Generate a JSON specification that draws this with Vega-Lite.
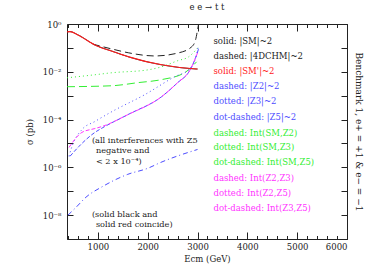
{
  "$schema": "https://vega.github.io/schema/vega-lite/v6.json",
  "width": 280,
  "height": 215,
  "autosize": {"type": "none"},
  "padding": {"left": 67, "top": 24, "right": 27, "bottom": 36},
  "background": "white",
  "config": {
    "font": "DejaVu Serif",
    "view": {"stroke": null},
    "axis": {"domainColor": "#222", "tickColor": "#222", "grid": false, "labelFont": "DejaVu Serif", "titleFont": "DejaVu Serif", "labelColor": "#222", "titleColor": "#222", "titleFontWeight": "normal"}
  },
  "title": {"text": "e e → t t", "fontSize": 8.5, "font": "DejaVu Serif", "fontWeight": "normal", "offset": 9, "anchor": "middle", "color": "#222"},
  "datasets": {
    "curves": [
      {"series": "SMZ2", "E": 380, "sigma": 0.00237},
      {"series": "SMZ2", "E": 1280, "sigma": 0.0026},
      {"series": "SMZ2", "E": 1800, "sigma": 0.0035},
      {"series": "SMZ2", "E": 2280, "sigma": 0.0047},
      {"series": "SMZ2", "E": 2740, "sigma": 0.0091},
      {"series": "SMZ2", "E": 2980, "sigma": 0.026},
      {"series": "SMZ3", "E": 380, "sigma": 0.0056},
      {"series": "SMZ3", "E": 940, "sigma": 0.0075},
      {"series": "SMZ3", "E": 1280, "sigma": 0.0091},
      {"series": "SMZ3", "E": 2000, "sigma": 0.012},
      {"series": "SMZ3", "E": 2280, "sigma": 0.0162},
      {"series": "SMZ3", "E": 2600, "sigma": 0.029},
      {"series": "SMZ3", "E": 2820, "sigma": 0.042},
      {"series": "SMZ3", "E": 3020, "sigma": 0.11},
      {"series": "Z5", "E": 400, "sigma": 1e-8},
      {"series": "Z5", "E": 560, "sigma": 2.1e-8},
      {"series": "Z5", "E": 760, "sigma": 5.6e-8},
      {"series": "Z5", "E": 1100, "sigma": 1.6e-7},
      {"series": "Z5", "E": 1600, "sigma": 5.1e-7},
      {"series": "Z5", "E": 2000, "sigma": 9.1e-7},
      {"series": "Z5", "E": 2260, "sigma": 1.6e-6},
      {"series": "Z5", "E": 3000, "sigma": 5.6e-6},
      {"series": "Z3", "E": 420, "sigma": 2.9e-6},
      {"series": "Z3", "E": 480, "sigma": 7.5e-6},
      {"series": "Z3", "E": 680, "sigma": 3.8e-5},
      {"series": "Z3", "E": 940, "sigma": 8.3e-5},
      {"series": "Z3", "E": 1280, "sigma": 2.14e-4},
      {"series": "Z3", "E": 1940, "sigma": 1.1e-3},
      {"series": "Z3", "E": 2540, "sigma": 6.2e-3},
      {"series": "Z3", "E": 2840, "sigma": 0.013},
      {"series": "Z3", "E": 2980, "sigma": 0.051},
      {"series": "Z3", "E": 3020, "sigma": 0.133},
      {"series": "Z2", "E": 440, "sigma": 2.9e-6},
      {"series": "Z2", "E": 620, "sigma": 7.5e-6},
      {"series": "Z2", "E": 940, "sigma": 2.9e-5},
      {"series": "Z2", "E": 1100, "sigma": 4.6e-5},
      {"series": "Z2", "E": 1600, "sigma": 1.6e-4},
      {"series": "Z2", "E": 2280, "sigma": 9.1e-4},
      {"series": "Z2", "E": 2600, "sigma": 3.5e-3},
      {"series": "Z2", "E": 2840, "sigma": 0.011},
      {"series": "Z2", "E": 2960, "sigma": 0.038},
      {"series": "Z2", "E": 3020, "sigma": 0.09},
      {"series": "Z2Z3", "E": 420, "sigma": 6.8e-6},
      {"series": "Z2Z3", "E": 680, "sigma": 2.9e-5},
      {"series": "Z2Z3", "E": 940, "sigma": 4.2e-5},
      {"series": "Z2Z3", "E": 1080, "sigma": 5.1e-5},
      {"series": "Z2Z3", "E": 1600, "sigma": 1.6e-4},
      {"series": "Z2Z3", "E": 2280, "sigma": 9.1e-4},
      {"series": "Z2Z3", "E": 2600, "sigma": 3.5e-3},
      {"series": "Z2Z3", "E": 2840, "sigma": 0.011},
      {"series": "Z2Z3", "E": 3000, "sigma": 0.062},
      {"series": "SM", "E": 380, "sigma": 0.47},
      {"series": "SM", "E": 440, "sigma": 0.48},
      {"series": "SM", "E": 600, "sigma": 0.35},
      {"series": "SM", "E": 940, "sigma": 0.133},
      {"series": "SM", "E": 1300, "sigma": 0.071},
      {"series": "SM", "E": 1620, "sigma": 0.042},
      {"series": "SM", "E": 2280, "sigma": 0.0196},
      {"series": "SM", "E": 2920, "sigma": 0.0133},
      {"series": "SM", "E": 3000, "sigma": 0.013},
      {"series": "4DCHM", "E": 900, "sigma": 0.143},
      {"series": "4DCHM", "E": 1300, "sigma": 0.088},
      {"series": "4DCHM", "E": 1620, "sigma": 0.062},
      {"series": "4DCHM", "E": 2140, "sigma": 0.046},
      {"series": "4DCHM", "E": 2620, "sigma": 0.062},
      {"series": "4DCHM", "E": 2880, "sigma": 0.11},
      {"series": "4DCHM", "E": 2960, "sigma": 0.215},
      {"series": "4DCHM", "E": 3000, "sigma": 0.56},
      {"series": "4DCHM", "E": 3020, "sigma": 0.95},
      {"series": "SMp", "E": 380, "sigma": 0.47},
      {"series": "SMp", "E": 440, "sigma": 0.48},
      {"series": "SMp", "E": 600, "sigma": 0.35},
      {"series": "SMp", "E": 940, "sigma": 0.133},
      {"series": "SMp", "E": 1300, "sigma": 0.071},
      {"series": "SMp", "E": 1620, "sigma": 0.042},
      {"series": "SMp", "E": 2280, "sigma": 0.0196},
      {"series": "SMp", "E": 2920, "sigma": 0.0133},
      {"series": "SMp", "E": 3000, "sigma": 0.013}
    ],
    "notes": [
      {"E": 880, "sigma": 1.21e-5, "label": "(all interferences with Z5"},
      {"E": 960, "sigma": 4.64e-6, "label": "negative and"},
      {"E": 960, "sigma": 1.62e-6, "label": "< 2 x 10⁻⁴)"},
      {"E": 880, "sigma": 1e-8, "label": "(solid black and"},
      {"E": 960, "sigma": 3.83e-9, "label": "solid red coincide)"}
    ],
    "keys": [
      {"series": "SM", "E": 3320, "sigma": 0.196, "label": "solid: |SM|~2", "part": 1},
      {"series": "4DCHM", "E": 3320, "sigma": 0.0464, "label": "dashed: |4DCHM|~2", "part": 1},
      {"series": "SMp", "E": 3320, "sigma": 0.011, "label": "solid: |SM'|~2", "part": 1},
      {"series": "Z2", "E": 3320, "sigma": 0.00261, "label": "dashed: |Z2|~2", "part": 1},
      {"series": "Z3", "E": 3320, "sigma": 0.000619, "label": "dotted: |Z3|~2", "part": 1},
      {"series": "Z5", "E": 3320, "sigma": 0.000133, "label": "dot-dashed: |Z5|~2", "part": 1},
      {"series": "SMZ2", "E": 3320, "sigma": 2.87e-5, "label": "dashed: Int(SM,Z2)", "part": 2},
      {"series": "SMZ3", "E": 3320, "sigma": 6.81e-6, "label": "dotted: Int(SM,Z3)", "part": 2},
      {"series": "SMZ5", "E": 3320, "sigma": 1.61e-6, "label": "dot-dashed: Int(SM,Z5)", "part": 2},
      {"series": "Z2Z3", "E": 3320, "sigma": 3.48e-7, "label": "dashed: Int(Z2,Z3)", "part": 2},
      {"series": "Z2Z5", "E": 3320, "sigma": 8.25e-8, "label": "dotted: Int(Z2,Z5)", "part": 2},
      {"series": "Z3Z5", "E": 3320, "sigma": 1.96e-8, "label": "dot-dashed: Int(Z3,Z5)", "part": 2}
    ]
  },
  "resolve": {"axis": {"x": "independent", "y": "independent"}},
  "layer": [
    {
      "data": {"name": "curves"},
      "transform": [{"filter": "datum.series != 'SMp'"}],
      "mark": {"type": "line", "strokeWidth": 1, "clip": true, "interpolate": "monotone"},
      "encoding": {
        "x": {"field": "E", "type": "quantitative", "scale": {"domain": [380, 6000], "nice": false, "zero": false},
              "axis": {"orient": "bottom", "values": [1000, 2000, 3000, 4000, 5000, 6000], "format": "d", "tickSize": -7, "labelPadding": 10, "labelFontSize": 8.5, "title": "Ecm (GeV)", "titleFontSize": 8.5, "titlePadding": 4}},
        "y": {"field": "sigma", "type": "quantitative", "scale": {"type": "log", "domain": [1e-9, 1], "nice": false},
              "axis": {"orient": "left", "values": [1e-9, 1e-8, 1e-7, 1e-6, 1e-5, 1e-4, 1e-3, 1e-2, 1e-1, 1], "tickSize": -6, "labelPadding": 12, "labelFontSize": 8.5,
                       "labelExpr": "round(log(datum.value)/LN10) == 0 ? '10⁰' : round(log(datum.value)/LN10) == -2 ? '10⁻²' : round(log(datum.value)/LN10) == -4 ? '10⁻⁴' : round(log(datum.value)/LN10) == -6 ? '10⁻⁶' : round(log(datum.value)/LN10) == -8 ? '10⁻⁸' : ''",
                       "title": "σ (pb)", "titleFontSize": 8.5, "titlePadding": 8}},
        "color": {"field": "series", "type": "nominal", "legend": null,
                  "scale": {"domain": ["SM", "4DCHM", "SMp", "Z2", "Z3", "Z5", "SMZ2", "SMZ3", "SMZ5", "Z2Z3", "Z2Z5", "Z3Z5"],
                            "range": ["#222222", "#222222", "#ff1a1a", "#4d4dff", "#4d4dff", "#4d4dff", "#33ee33", "#33ee33", "#33ee33", "#ff33ff", "#ff33ff", "#ff33ff"]}},
        "strokeDash": {"field": "series", "type": "nominal", "legend": null,
                  "scale": {"domain": ["SM", "4DCHM", "SMp", "Z2", "Z3", "Z5", "SMZ2", "SMZ3", "Z2Z3"],
                            "range": [[1, 0], [7, 4], [1, 0], [4, 2], [1, 3], [5, 3, 1, 3], [8, 4], [1, 3], [4, 2]]}}
      }
    },
    {
      "data": {"name": "curves"},
      "transform": [{"filter": "datum.series == 'SMp'"}],
      "mark": {"type": "line", "strokeWidth": 1.1, "clip": true, "interpolate": "monotone"},
      "encoding": {
        "x": {"field": "E", "type": "quantitative", "axis": null},
        "y": {"field": "sigma", "type": "quantitative", "axis": null},
        "color": {"field": "series", "type": "nominal", "legend": null}
      }
    },
    {
      "data": {"name": "notes"},
      "mark": {"type": "text", "align": "left", "baseline": "middle", "fontSize": 8.2, "color": "#222"},
      "encoding": {
        "x": {"field": "E", "type": "quantitative", "axis": {"orient": "bottom", "values": [400, 600, 800, 1000, 1200, 1400, 1600, 1800, 2000, 2200, 2400, 2600, 2800, 3000, 3200, 3400, 3600, 3800, 4000, 4200, 4400, 4600, 4800, 5000, 5200, 5400, 5600, 5800, 6000], "tickSize": -3.5, "labels": false, "domain": false, "title": null}},
        "y": {"field": "sigma", "type": "quantitative", "axis": null},
        "text": {"field": "label"}
      }
    },
    {
      "data": {"name": "keys"},
      "transform": [{"filter": "datum.part == 1"}],
      "mark": {"type": "text", "align": "left", "baseline": "middle", "fontSize": 8.5},
      "encoding": {
        "x": {"field": "E", "type": "quantitative", "axis": {"orient": "top", "values": [1000, 2000, 3000, 4000, 5000, 6000], "tickSize": -7, "labels": false, "title": null}},
        "y": {"field": "sigma", "type": "quantitative", "axis": {"orient": "right", "values": [1e-9, 1e-8, 1e-7, 1e-6, 1e-5, 1e-4, 1e-3, 1e-2, 1e-1, 1], "tickSize": -6, "labels": false,
              "title": "Benchmark 1, e+ = +1 & e− = −1", "titleAngle": 90, "titleFontSize": 9, "titlePadding": 6}},
        "color": {"field": "series", "type": "nominal", "legend": null},
        "text": {"field": "label"}
      }
    },
    {
      "data": {"name": "keys"},
      "transform": [{"filter": "datum.part == 2"}],
      "mark": {"type": "text", "align": "left", "baseline": "middle", "fontSize": 8.5},
      "encoding": {
        "x": {"field": "E", "type": "quantitative", "axis": {"orient": "top", "values": [400, 600, 800, 1000, 1200, 1400, 1600, 1800, 2000, 2200, 2400, 2600, 2800, 3000, 3200, 3400, 3600, 3800, 4000, 4200, 4400, 4600, 4800, 5000, 5200, 5400, 5600, 5800, 6000], "tickSize": -3.5, "labels": false, "domain": false, "title": null}},
        "y": {"field": "sigma", "type": "quantitative", "axis": null},
        "color": {"field": "series", "type": "nominal", "legend": null},
        "text": {"field": "label"}
      }
    }
  ]
}
